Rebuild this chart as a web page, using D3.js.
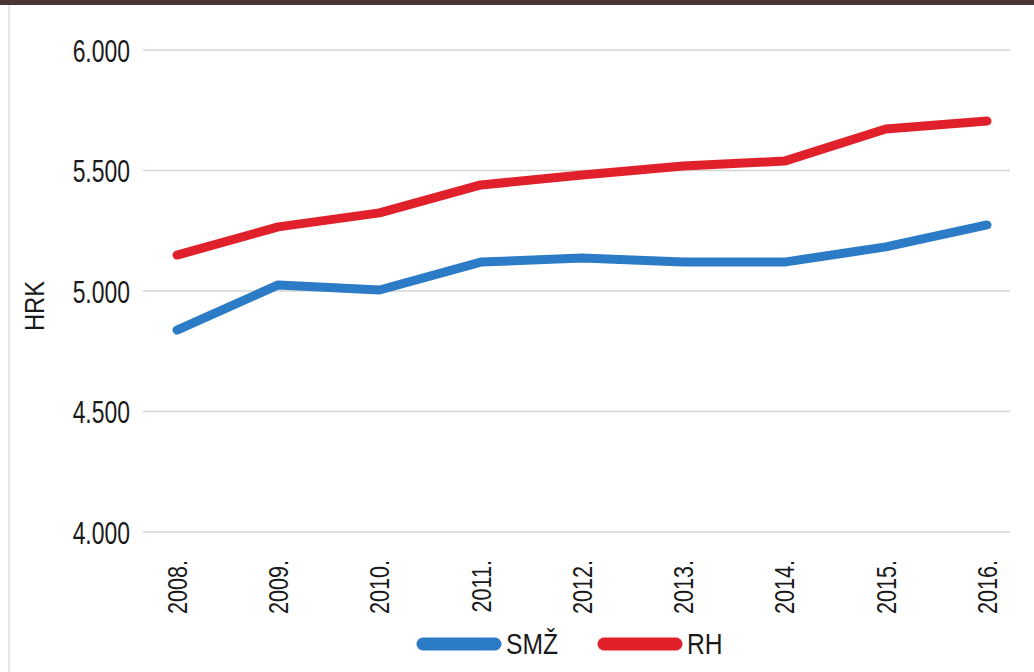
<!DOCTYPE html>
<html>
<head>
<meta charset="utf-8">
<script src="https://cdn.jsdelivr.net/npm/d3@7"></script>
<style>
  html, body { margin: 0; padding: 0; background: #fff; overflow: hidden; }
  svg { display: block; }
  svg text { font-family: "Liberation Sans", Arial, sans-serif; fill: #1a1a1a; }
</style>
</head>
<body>
<div id="chart"></div>
<script>
// data
var years = ["2008.", "2009.", "2010.", "2011.", "2012.", "2013.", "2014.", "2015.", "2016."];
var smz = [4838, 5025, 5004, 5120, 5137, 5120, 5120, 5183, 5274];
var rh = [5149, 5266, 5324, 5440, 5481, 5519, 5539, 5672, 5705];
var yTicks = [4000, 4500, 5000, 5500, 6000];
var seriesNames = ["SMŽ", "RH"];
var colors = ["#2b7bc6", "#e0202a"];

var W = 1034, H = 672;
var margin = {left: 143, right: 24, top: 50, bottom: 140};

var svg = d3.select("#chart").append("svg")
    .attr("width", W)
    .attr("height", H);

// top bar + left border
svg.append("rect").attr("x", 0).attr("y", 0).attr("width", W).attr("height", 5).attr("fill", "#4a3632");
svg.append("line").attr("x1", 9).attr("x2", 9).attr("y1", 5).attr("y2", H)
    .attr("stroke", "#dcdcdc").attr("stroke-width", 1.5);

var x = d3.scalePoint()
    .domain(years)
    .range([177, 987]);

var y = d3.scaleLinear()
    .domain([4000, 6000])
    .range([532, 50]);

var fmt = function (d) { return d3.format(",")(d).replace(",", "."); };

// gridlines
svg.append("g")
    .selectAll("line")
    .data(yTicks)
    .enter().append("line")
    .attr("x1", margin.left)
    .attr("x2", W - margin.right)
    .attr("y1", function (d) { return y(d); })
    .attr("y2", function (d) { return y(d); })
    .attr("stroke", "#d4d4d4")
    .attr("stroke-width", 1.5);

// y axis labels (narrow look via horizontal squeeze)
var yAxis = d3.axisLeft(y).tickValues(yTicks).tickFormat(fmt).tickSize(0).tickPadding(0);
var gy = svg.append("g")
    .attr("transform", "translate(130,0)")
    .call(yAxis);
gy.select(".domain").remove();
gy.selectAll("text")
    .style("font-size", "31px")
    .attr("fill", "#1a1a1a")
    .attr("x", 0)
    .attr("dy", "0.36em")
    .attr("transform", "scale(0.74,1)");

// x axis labels
var xAxis = d3.axisBottom(x).tickSize(0).tickPadding(0);
var gx = svg.append("g")
    .attr("transform", "translate(0,560)")
    .call(xAxis);
gx.select(".domain").remove();
gx.selectAll("text")
    .style("font-size", "27px")
    .attr("fill", "#1a1a1a")
    .attr("transform", "rotate(-90) scale(0.8,1)")
    .attr("text-anchor", "end")
    .attr("x", 0)
    .attr("y", 0)
    .attr("dy", "0.35em");

// y title
svg.append("text")
    .attr("transform", "translate(34,306) rotate(-90) scale(0.85,1)")
    .attr("text-anchor", "middle")
    .attr("dy", "0.36em")
    .style("font-size", "28px")
    .text("HRK");

// lines
var line = d3.line()
    .x(function (d, i) { return x(years[i]); })
    .y(function (d) { return y(d); });

[smz, rh].forEach(function (s, i) {
    svg.append("path")
        .datum(s)
        .attr("d", line)
        .attr("fill", "none")
        .attr("stroke", colors[i])
        .attr("stroke-width", 9)
        .attr("stroke-linecap", "round")
        .attr("stroke-linejoin", "round");
});

// legend
var legendX = [417, 598];
seriesNames.forEach(function (name, i) {
    var g = svg.append("g").attr("transform", "translate(" + legendX[i] + ",644)");
    g.append("line")
        .attr("x1", 6).attr("x2", 78)
        .attr("stroke", colors[i])
        .attr("stroke-width", 13)
        .attr("stroke-linecap", "round");
    g.append("text")
        .attr("transform", "translate(89,0) scale(0.85,1)")
        .attr("dy", "0.36em")
        .style("font-size", "29px")
        .text(name);
});
</script>
</body>
</html>
